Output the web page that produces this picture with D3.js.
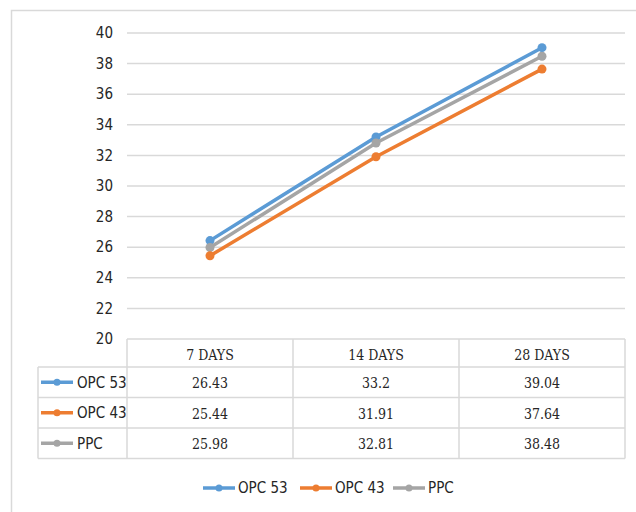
<!DOCTYPE html>
<html>
<head>
<meta charset="utf-8">
<script src="https://cdn.jsdelivr.net/npm/d3@7"></script>
<style>
  body { margin: 0; background: #fff; }
  .tick-label { font-family: "DejaVu Sans Condensed", "DejaVu Sans"; font-stretch: condensed; font-size: 15px; fill: #262626; }
  .cell-text { font-family: "DejaVu Serif Condensed", "DejaVu Serif"; font-stretch: condensed; font-size: 14px; fill: #262626; }
  .row-label { font-family: "DejaVu Sans Condensed", "DejaVu Sans"; font-stretch: condensed; font-size: 15px; fill: #262626; }
</style>
</head>
<body>
<svg id="chart" width="636" height="512"></svg>
<script>
const categories = ['7 DAYS', '14 DAYS', '28 DAYS']
const seriesNames = ['OPC 53', 'OPC 43', 'PPC']
const opc53 = [26.43, 33.2, 39.04]
const opc43 = [25.44, 31.91, 37.64]
const ppc = [25.98, 32.81, 38.48]
const yTicks = [20, 22, 24, 26, 28, 30, 32, 34, 36, 38, 40]
const colors = ['#5B9BD5', '#ED7D31', '#A5A5A5']

const series = [opc53, opc43, ppc].map((values, i) => ({ name: seriesNames[i], values, color: colors[i] }))

const svg = d3.select('#chart')
const gridColor = '#d9d9d9'

// chart frame
svg.append('rect')
    .attr('x', 11.5).attr('y', 10.5)
    .attr('width', 640).attr('height', 520)
    .attr('fill', 'none').attr('stroke', gridColor).attr('stroke-width', 1.5)

const x = d3.scaleBand().domain(categories).range([127, 625])
const y = d3.scaleLinear().domain([20, 40]).range([339, 33])

// gridlines
svg.append('g')
    .selectAll('line')
    .data(yTicks.filter(t => t > 20))
    .join('line')
    .attr('x1', x.range()[0]).attr('x2', x.range()[1])
    .attr('y1', d => y(d)).attr('y2', d => y(d))
    .attr('stroke', gridColor).attr('stroke-width', 1.5)

// y tick labels
svg.append('g')
    .selectAll('text')
    .data(yTicks)
    .join('text')
    .attr('class', 'tick-label')
    .attr('x', 113)
    .attr('y', d => y(d))
    .attr('dy', '0.35em')
    .attr('text-anchor', 'end')
    .text(d => d)

// lines
const line = d3.line()
    .x((d, i) => x(categories[i]) + x.bandwidth() / 2)
    .y(d => y(d))

const gSeries = svg.append('g')
    .selectAll('g')
    .data([series[0], series[2], series[1]])
    .join('g')

gSeries.append('path')
    .attr('d', s => line(s.values))
    .attr('fill', 'none')
    .attr('stroke', s => s.color)
    .attr('stroke-width', 3.5)
    .attr('stroke-linecap', 'round')

gSeries.selectAll('circle')
    .data(s => s.values.map((v, i) => ({ v, i, color: s.color })))
    .join('circle')
    .attr('cx', d => x(categories[d.i]) + x.bandwidth() / 2)
    .attr('cy', d => y(d.v))
    .attr('r', 4.5)
    .attr('fill', d => d.color)

// data table
const headerTop = y(20)
const headerH = 28
const rowH = 30.5
const labelLeft = 38
const tableBottom = headerTop + headerH + rowH * series.length
const gTable = svg.append('g')
    .attr('stroke', gridColor).attr('stroke-width', 1.5)

// horizontal borders
gTable.append('line')
    .attr('x1', x.range()[0]).attr('x2', x.range()[1])
    .attr('y1', headerTop).attr('y2', headerTop)
gTable.selectAll('line.row')
    .data(d3.range(series.length + 1))
    .join('line')
    .attr('class', 'row')
    .attr('x1', labelLeft).attr('x2', x.range()[1])
    .attr('y1', i => headerTop + headerH + i * rowH)
    .attr('y2', i => headerTop + headerH + i * rowH)

// vertical borders
gTable.selectAll('line.col')
    .data(categories.concat(['end']))
    .join('line')
    .attr('class', 'col')
    .attr('x1', d => d === 'end' ? x.range()[1] : x(d))
    .attr('x2', d => d === 'end' ? x.range()[1] : x(d))
    .attr('y1', headerTop).attr('y2', tableBottom)
gTable.append('line')
    .attr('x1', labelLeft).attr('x2', labelLeft)
    .attr('y1', headerTop + headerH).attr('y2', tableBottom)

// header text
svg.append('g')
    .selectAll('text')
    .data(categories)
    .join('text')
    .attr('class', 'cell-text')
    .attr('x', d => x(d) + x.bandwidth() / 2)
    .attr('y', headerTop + headerH / 2 + 2)
    .attr('dy', '0.35em')
    .attr('text-anchor', 'middle')
    .text(d => d)

// value cells
series.forEach((s, r) => {
    const rowY = headerTop + headerH + r * rowH + rowH / 2 + 1
    svg.append('g')
        .selectAll('text')
        .data(s.values)
        .join('text')
        .attr('class', 'cell-text')
        .attr('x', (d, i) => x(categories[i]) + x.bandwidth() / 2)
        .attr('y', rowY)
        .attr('dy', '0.35em')
        .attr('text-anchor', 'middle')
        .text(d => d)

    const key = svg.append('g').attr('transform', `translate(41,${rowY - 1})`)
    key.append('line').attr('x1', 0).attr('x2', 32)
        .attr('stroke', s.color).attr('stroke-width', 3.5)
    key.append('circle').attr('cx', 16).attr('r', 3.5).attr('fill', s.color)
    key.append('text').attr('class', 'row-label')
        .attr('x', 36).attr('dy', '0.35em').text(s.name)
})

// legend
const legendX = [203, 300, 393]
const legend = svg.append('g')
    .selectAll('g')
    .data(series)
    .join('g')
    .attr('transform', (s, i) => `translate(${legendX[i]},488)`)
legend.append('line').attr('x1', 0).attr('x2', 32)
    .attr('stroke', s => s.color).attr('stroke-width', 3.5)
legend.append('circle').attr('cx', 16).attr('r', 3.5).attr('fill', s => s.color)
legend.append('text').attr('class', 'row-label')
    .attr('x', 35).attr('dy', '0.35em').text(s => s.name)
</script>
</body>
</html>
